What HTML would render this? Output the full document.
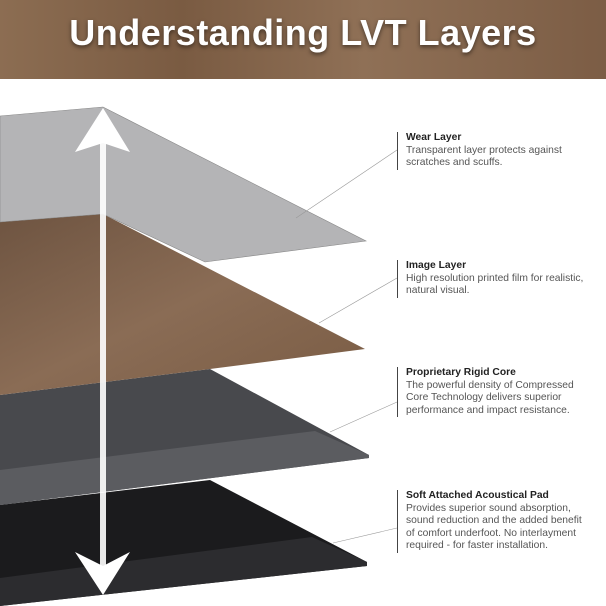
<!DOCTYPE html>
<html><head><meta charset="utf-8"><style>
html,body{margin:0;padding:0;background:#fff;}
body{width:606px;height:606px;position:relative;overflow:hidden;font-family:"Liberation Sans",sans-serif;}
.hdr{position:absolute;left:0;top:0;width:606px;height:79px;background:linear-gradient(90deg,#8c6d52,#7a5b42 30%,#8f7056 60%,#7c5d45);}
.title{position:absolute;left:0;top:12px;width:606px;text-align:center;color:#fff;font-weight:bold;font-size:36px;letter-spacing:0.5px;text-shadow:0 2px 4px rgba(0,0,0,.5);}
.lab{position:absolute;left:397px;border-left:1px solid #444;padding-left:8px;font-size:10.3px;line-height:12.5px;color:#555;white-space:nowrap;}
.lab b{color:#222;}
</style></head><body>
<div class="hdr"></div>
<div class="title">Understanding LVT Layers</div>
<svg width="606" height="606" style="position:absolute;left:0;top:0">
<defs>
<linearGradient id="wd" x1="0" y1="0" x2="1" y2="1"><stop offset="0" stop-color="#6e5441"/><stop offset="0.5" stop-color="#8a6c55"/><stop offset="1" stop-color="#7a5c44"/></linearGradient>
</defs>
<polygon points="0,505 210,480 367,562 367,566 0,606" fill="#1b1b1d"/>
<polygon points="0,578 312,537 367,562 367,566 0,606" fill="#2c2c2f"/>
<polygon points="0,395 210,369 369,455 369,458 0,505" fill="#48494d"/>
<polygon points="0,470 315,431 369,455 369,458 0,505" fill="#5b5c60"/>
<polygon points="0,222 103,214 365,349 210,369 0,395" fill="url(#wd)"/>
<polygon points="0,116 103,107 366,241 205,262 103,214 0,222" fill="#b4b4b6" stroke="#888" stroke-width="0.6"/>
<g stroke="#999" stroke-width="0.6">
<line x1="397" y1="150" x2="296" y2="218"/>
<line x1="397" y1="278" x2="319" y2="323"/>
<line x1="397" y1="402" x2="330" y2="432"/>
<line x1="397" y1="528" x2="333" y2="543"/>
</g>
<rect x="100" y="135" width="6" height="440" fill="#fff" opacity="0.9"/>
<polygon points="103,108 130,152 103,143 75,152" fill="#fff"/>
<polygon points="103,595 130,552 103,566 75,552" fill="#fff"/>
</svg>
<div class="lab" style="top:132px"><b>Wear Layer</b><br>Transparent layer protects against<br>scratches and scuffs.</div>
<div class="lab" style="top:260px"><b>Image Layer</b><br>High resolution printed film for realistic,<br>natural visual.</div>
<div class="lab" style="top:367px"><b>Proprietary Rigid Core</b><br>The powerful density of Compressed<br>Core Technology delivers superior<br>performance and impact resistance.</div>
<div class="lab" style="top:490px"><b>Soft Attached Acoustical Pad</b><br>Provides superior sound absorption,<br>sound reduction and the added benefit<br>of comfort underfoot. No interlayment<br>required - for faster installation.</div>
</body></html>
